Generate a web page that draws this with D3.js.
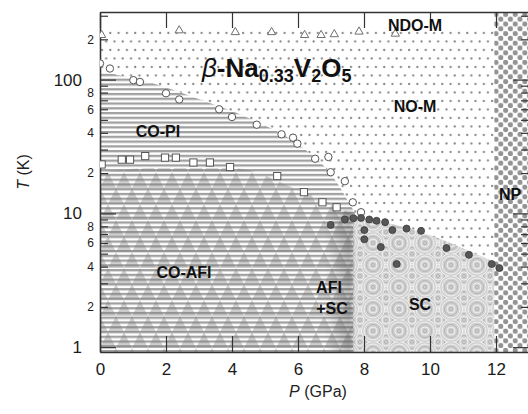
<!DOCTYPE html>
<html><head><meta charset="utf-8">
<script src="https://cdn.jsdelivr.net/npm/d3@7"></script>
<style>
body{margin:0;background:#fff;}
svg{display:block;font-family:"Liberation Sans",Arial,Helvetica,sans-serif;}
</style></head><body>
<svg id="chart" width="528" height="414"></svg>
<script>
// Axes
const pressureDomain = [0, 13];
const tempDomain = [0.92, 320];
const xTicks = [0, 2, 4, 6, 8, 10, 12];
const yMajorTicks = [1, 10, 100];
const yMinorTicks = [2,3,4,5,6,7,8,9,20,30,40,50,60,70,80,90,200,300];

// Measured transition points (P in GPa, T in K)
const ndoP = [0.05, 2.4, 4.1, 5.2, 6.2, 6.7, 7.1, 7.85, 8.95];
const ndoT = [215, 233, 226, 226, 215, 215, 218, 228, 220];
const coP = [0, 0.3, 1.01, 1.21, 2.0, 2.4, 3.61, 4.0, 4.75, 5.5, 5.85, 5.98, 6.52, 6.92, 6.99, 7.42, 7.66, 7.91];
const coT = [132, 121, 99, 96, 79, 71, 60, 52.5, 46, 39, 36.8, 33.2, 25.6, 26.4, 20.3, 17.4, 12.1, 10.2];
const afiP = [0.05, 0.66, 0.91, 1.37, 1.97, 2.30, 2.83, 3.33, 3.94, 5.37, 6.18, 6.74, 7.17];
const afiT = [23.2, 25.2, 25.2, 26.8, 26.1, 26.1, 24.0, 24.0, 22.2, 19.0, 14.4, 12.1, 11.1];
const scP = [6.99, 7.42, 7.68, 7.91, 8.16, 8.38, 8.64, 8.86, 9.29, 9.73, 8.01, 8.01, 8.51, 8.99, 10.5, 11.18, 11.87, 12.1];
const scT = [8.2, 9.0, 9.2, 9.25, 9.0, 8.8, 8.6, 7.5, 7.7, 7.4, 7.5, 6.4, 5.6, 4.18, 5.5, 4.9, 4.18, 3.9];

// Phase-region boundaries
const noTopT = 245;
const coPiBoundP = [0, 1.52, 3.03, 4.55, 6.06, 6.97, 7.73];
const coPiBoundT = [115, 95, 71, 51, 32, 20, 10];
const coAfiBoundP = [0, 1.52, 4.03, 6.06, 6.97, 7.67];
const coAfiBoundT = [20.2, 21.7, 21.7, 14.8, 11.9, 9.8];
const scBoundP = [7.67, 9.79, 11.52, 12.0];
const scBoundT = [9.6, 7.16, 4.82, 4.27];
const npStartP = 11.95;
const afiScP = [6.85, 7.67];

const x = d3.scaleLinear().domain(pressureDomain).range([100, 529]);
const y = d3.scaleLog().domain(tempDomain).range([352, 12]);
const [x0, x1] = x.range();
const [yb, yt] = y.range();

const svg = d3.select('#chart');
const defs = svg.append('defs');

defs.append('clipPath').attr('id', 'plot')
  .append('rect').attr('x', x0).attr('y', yt).attr('width', x1 - x0).attr('height', yb - yt);

function pattern(id, w, h) {
  return defs.append('pattern').attr('id', id).attr('patternUnits', 'userSpaceOnUse')
    .attr('x', x0).attr('y', yt).attr('width', w).attr('height', h);
}

// NO-M: sparse staggered dots
const pd = pattern('dots', 8.3, 17);
pd.append('rect').attr('width', 8.3).attr('height', 17).attr('fill', '#fff');
pd.append('circle').attr('cx', 2).attr('cy', 4).attr('r', 1.15).attr('fill', '#888');
pd.append('circle').attr('cx', 6.15).attr('cy', 12.5).attr('r', 1.15).attr('fill', '#888');

// CO phases: horizontal stripes
const ps = pattern('stripes', 10, 4.76);
ps.append('rect').attr('width', 10).attr('height', 4.76).attr('fill', '#fff');
ps.append('rect').attr('width', 10).attr('height', 2.3).attr('fill', '#a0a0a0');

// CO-AFI: triangles laid over the stripes
const pt = pattern('tris', 16, 32);
pt.append('path').attr('d', 'M0,16L8,0L16,16Z M-8,32L0,16L8,32Z M8,32L16,16L24,32Z')
  .attr('fill', '#7a7a7a').attr('fill-opacity', 0.36);

// SC: overlapping concentric circles
const pc = pattern('rings', 26, 22);
pc.append('rect').attr('width', 26).attr('height', 22).attr('fill', '#d6d6d6');
[[0,0],[26,0],[0,22],[26,22],[13,11]].forEach(([cx, cy]) => {
  const g = pc.append('g');
  g.append('circle').attr('cx', cx).attr('cy', cy).attr('r', 11.5).attr('fill', '#d0d0d0')
    .attr('stroke', '#f2f2f2').attr('stroke-width', 1);
  [9, 6.5, 4, 1.6].forEach((r, i) => {
    g.append('circle').attr('cx', cx).attr('cy', cy).attr('r', r).attr('fill', 'none')
      .attr('stroke', i % 2 ? '#b2b2b2' : '#f4f4f4').attr('stroke-width', 0.9);
  });
});

// NP: halftone dots
const pn = pattern('np', 9.6, 9.6);
pn.append('rect').attr('width', 9.6).attr('height', 9.6).attr('fill', '#fff');
[[2.4, 2.4], [7.2, 7.2]].forEach(([cx, cy]) => {
  pn.append('circle').attr('cx', cx).attr('cy', cy).attr('r', 2.6).attr('fill', '#939393');
});

// AFI+SC: soft gray band
const gr = defs.append('linearGradient').attr('id', 'mix').attr('x1', 0).attr('x2', 1).attr('y1', 0).attr('y2', 0);
gr.append('stop').attr('offset', 0).attr('stop-color', '#505050').attr('stop-opacity', 0.0);
gr.append('stop').attr('offset', 0.45).attr('stop-color', '#505050').attr('stop-opacity', 0.22);
gr.append('stop').attr('offset', 0.85).attr('stop-color', '#505050').attr('stop-opacity', 0.38);
gr.append('stop').attr('offset', 1).attr('stop-color', '#505050').attr('stop-opacity', 0.28);
defs.append('filter').attr('id', 'soft').attr('x', -0.3).attr('y', -0.1).attr('width', 1.6).attr('height', 1.2)
  .append('feGaussianBlur').attr('stdDeviation', 1.6);

const zip = (P, T) => P.map((p, i) => [p, T[i]]);
const line = d3.line().x(d => x(d[0])).y(d => y(d[1])).curve(d3.curveMonotoneX);
const Tmin = tempDomain[0];

const regions = svg.append('g').attr('clip-path', 'url(#plot)');

// NO-M
regions.append('rect').attr('x', x(0)).attr('y', y(noTopT))
  .attr('width', x(npStartP) - x(0)).attr('height', y(Tmin) - y(noTopT)).attr('fill', 'url(#dots)');

// CO-PI
const coPiPts = zip(coPiBoundP, coPiBoundT);
regions.append('path')
  .attr('d', line(coPiPts) + `L${x(coAfiBoundP[coAfiBoundP.length-1])},${y(Tmin)}L${x(0)},${y(Tmin)}Z`)
  .attr('fill', 'url(#stripes)');

// CO-AFI
const coAfiPts = zip(coAfiBoundP, coAfiBoundT);
const coAfiD = line(coAfiPts) + `L${x(coAfiBoundP[coAfiBoundP.length-1])},${y(Tmin)}L${x(0)},${y(Tmin)}Z`;
regions.append('path').attr('d', coAfiD).attr('fill', 'url(#stripes)');
regions.append('path').attr('d', coAfiD).attr('fill', 'url(#tris)');

// SC
const scPts = zip(scBoundP, scBoundT);
regions.append('path')
  .attr('d', line(scPts) + `L${x(scBoundP[scBoundP.length-1])},${y(Tmin)}L${x(scBoundP[0])},${y(Tmin)}Z`)
  .attr('fill', 'url(#rings)');

// AFI+SC coexistence band
regions.append('rect').attr('x', x(afiScP[0])).attr('y', y(10.5))
  .attr('width', x(afiScP[1]) - x(afiScP[0])).attr('height', y(Tmin) - y(10.5) + 6)
  .attr('fill', 'url(#mix)').attr('filter', 'url(#soft)');

// NP
regions.append('rect').attr('x', x(npStartP)).attr('y', yt)
  .attr('width', x1 - x(npStartP)).attr('height', yb - yt).attr('fill', 'url(#np)');

// Axes with inward ticks
function styleAxis(g, fs) {
  g.select('.domain').attr('stroke', '#333').attr('stroke-width', 1.3);
  g.selectAll('.tick line').attr('stroke', '#333').attr('stroke-width', 1.2);
  g.selectAll('.tick text').attr('font-size', fs).attr('fill', '#1a1a1a')
    .attr('font-family', '"Liberation Sans",Arial,sans-serif');
}
const minorFmt = d => { const m = Math.round(d / Math.pow(10, Math.floor(Math.log10(d) + 1e-9))); return m % 2 === 0 ? String(m) : ''; };

svg.append('g').attr('transform', `translate(${x0},0)`)
  .call(d3.axisLeft(y).tickValues(yMinorTicks).tickFormat(minorFmt).tickSizeInner(-8).tickSizeOuter(0).tickPadding(6))
  .call(g => styleAxis(g, 12));
svg.append('g').attr('transform', `translate(${x0},0)`)
  .call(d3.axisLeft(y).tickValues(yMajorTicks).tickFormat(d3.format('d')).tickSizeInner(-16).tickSizeOuter(0).tickPadding(18))
  .call(g => styleAxis(g, 17));
svg.append('g').attr('transform', `translate(${x1},0)`)
  .call(d3.axisRight(y).tickValues(yMinorTicks).tickFormat('').tickSizeInner(-8).tickSizeOuter(0))
  .call(g => styleAxis(g, 12));
svg.append('g').attr('transform', `translate(${x1},0)`)
  .call(d3.axisRight(y).tickValues(yMajorTicks).tickFormat('').tickSizeInner(-16).tickSizeOuter(0))
  .call(g => styleAxis(g, 12));
svg.append('g').attr('transform', `translate(0,${yb})`)
  .call(d3.axisBottom(x).tickValues(xTicks).tickFormat(d3.format('d')).tickSizeInner(-16).tickSizeOuter(0).tickPadding(11))
  .call(g => styleAxis(g, 17));
svg.append('g').attr('transform', `translate(0,${yt})`)
  .call(d3.axisTop(x).tickValues(xTicks).tickFormat('').tickSizeInner(-16).tickSizeOuter(0))
  .call(g => styleAxis(g, 12));

// Data points
const pts = svg.append('g').attr('clip-path', 'url(#plot)');
pts.selectAll('.ndo').data(zip(ndoP, ndoT)).join('path')
  .attr('transform', d => `translate(${x(d[0])},${y(d[1])})`)
  .attr('d', d3.symbol(d3.symbolTriangle, 30))
  .attr('fill', '#fff').attr('stroke', '#707070').attr('stroke-width', 1);
pts.selectAll('.co').data(zip(coP, coT)).join('circle')
  .attr('cx', d => x(d[0])).attr('cy', d => y(d[1])).attr('r', 3.7)
  .attr('fill', '#fff').attr('stroke', '#555').attr('stroke-width', 1);
pts.selectAll('.afi').data(zip(afiP, afiT)).join('rect')
  .attr('x', d => x(d[0]) - 3.6).attr('y', d => y(d[1]) - 3.6).attr('width', 7.2).attr('height', 7.2)
  .attr('fill', '#fff').attr('stroke', '#555').attr('stroke-width', 1);
pts.selectAll('.sc').data(zip(scP, scT)).join('circle')
  .attr('cx', d => x(d[0])).attr('cy', d => y(d[1])).attr('r', 3.5)
  .attr('fill', '#575757').attr('stroke', '#3a3a3a').attr('stroke-width', 0.8);

// Phase labels
const labels = [
  ['NDO-M', 415, 31], ['NO-M', 415, 112], ['CO-PI', 158, 137], ['CO-AFI', 184, 278],
  ['AFI', 329, 293], ['+SC', 332, 314], ['SC', 420, 310], ['NP', 510, 200]
];
svg.append('g').selectAll('text').data(labels).join('text')
  .attr('x', d => d[1]).attr('y', d => d[2]).attr('text-anchor', 'middle')
  .attr('font-size', 16).attr('font-weight', 'bold').attr('fill', '#111').text(d => d[0]);

// Compound name
const title = svg.append('text').attr('x', 202).attr('y', 77).attr('font-weight', 'bold')
  .attr('font-size', 26).attr('fill', '#111');
title.append('tspan').attr('font-style', 'italic').attr('font-weight', 'normal').text('β');
title.append('tspan').text('-Na');
title.append('tspan').attr('font-size', 18).attr('dy', 5).text('0.33');
title.append('tspan').attr('dy', -5).text('V');
title.append('tspan').attr('font-size', 18).attr('dy', 5).text('2');
title.append('tspan').attr('dy', -5).text('O');
title.append('tspan').attr('font-size', 18).attr('dy', 5).text('5');

// Axis titles
const xt = svg.append('text').attr('x', 318).attr('y', 397).attr('text-anchor', 'middle')
  .attr('font-size', 16).attr('fill', '#222');
xt.append('tspan').attr('font-style', 'italic').text('P');
xt.append('tspan').text(' (GPa)');
const yl = svg.append('text').attr('transform', 'translate(29,172) rotate(-90)').attr('text-anchor', 'middle')
  .attr('font-size', 16).attr('fill', '#222');
yl.append('tspan').attr('font-style', 'italic').text('T');
yl.append('tspan').text(' (K)');
</script></body></html>
